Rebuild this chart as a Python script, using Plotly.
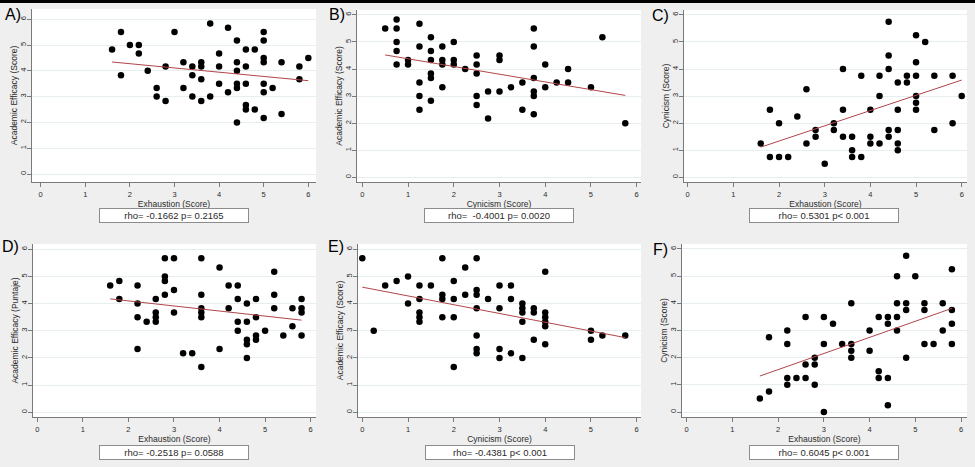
import numpy as np
import plotly.graph_objects as go

# ---------------- data ----------------
# Panel A: Exhaustion vs Academic Efficacy
a_x = [1.6, 1.8, 1.8, 2.0, 2.2, 2.2, 2.4, 2.6, 2.6, 2.8, 2.8, 3.0, 3.2, 3.2, 3.4, 3.4, 3.4,
       3.6, 3.6, 3.6, 3.6, 3.8, 3.8, 4.0, 4.0, 4.0, 4.2, 4.2, 4.4, 4.4, 4.4, 4.4, 4.4, 4.4,
       4.6, 4.6, 4.6, 4.6, 4.6, 4.8, 4.8, 5.0, 5.0, 5.0, 5.0, 5.0, 5.0, 5.0, 5.2, 5.4, 5.4,
       5.8, 5.8, 6.0]
a_y = [4.83, 5.5, 3.83, 5.0, 5.0, 4.67, 4.0, 3.33, 3.0, 4.17, 2.83, 5.5, 4.33, 3.33, 4.17, 3.83, 3.0,
       4.33, 4.17, 3.67, 2.83, 5.83, 3.0, 4.67, 4.17, 3.5, 5.67, 3.17, 5.17, 4.33, 4.0, 3.5, 3.33, 2.0,
       4.83, 4.17, 3.5, 2.67, 2.5, 4.83, 2.5, 5.5, 5.17, 4.5, 4.33, 3.5, 3.17, 2.17, 3.33, 4.33, 2.33,
       4.17, 3.67, 4.5]

# Panel B: Cynicism vs Academic Efficacy
b_x = [0.5, 0.75, 0.75, 0.75, 0.75, 0.75, 1.0, 1.0, 1.25, 1.25, 1.25, 1.25, 1.25,
       1.5, 1.5, 1.5, 1.5, 1.5, 1.5, 1.75, 1.75, 1.75, 1.75, 2.0, 2.0, 2.0, 2.25,
       2.5, 2.5, 2.5, 2.5, 2.5, 2.75, 2.75, 3.0, 3.0, 3.0, 3.25, 3.5, 3.5,
       3.75, 3.75, 3.75, 3.75, 3.75, 3.75, 4.0, 4.0, 4.25, 4.5, 4.5, 5.0, 5.25, 5.75]
b_y = [5.5, 5.83, 5.5, 5.0, 4.67, 4.17, 4.33, 4.17, 5.67, 4.83, 3.5, 3.0, 2.5,
       5.17, 4.67, 4.33, 3.83, 3.67, 2.83, 4.83, 4.33, 4.17, 3.33, 5.0, 4.33, 4.17, 4.0,
       4.5, 4.17, 3.83, 3.0, 2.67, 3.17, 2.17, 4.5, 4.33, 3.17, 3.33, 3.5, 2.5,
       5.5, 4.83, 3.67, 3.17, 3.0, 2.33, 4.17, 3.33, 3.5, 4.0, 3.5, 3.33, 5.17, 2.0]

# Panel C: Exhaustion vs Cynicism
c_x = [1.6, 1.8, 1.8, 2.0, 2.0, 2.2, 2.4, 2.6, 2.6, 2.8, 2.8, 3.0, 3.2, 3.2, 3.4, 3.4, 3.4,
       3.6, 3.6, 3.6, 3.8, 3.8, 4.0, 4.0, 4.0, 4.2, 4.2, 4.2, 4.4, 4.4, 4.4, 4.4, 4.4,
       4.6, 4.6, 4.6, 4.6, 4.6, 4.8, 4.8, 5.0, 5.0, 5.0, 5.0, 5.0, 5.0, 5.2, 5.4, 5.4,
       5.8, 5.8, 6.0]
c_y = [1.25, 2.5, 0.75, 2.0, 0.75, 0.75, 2.25, 3.25, 1.25, 1.75, 1.5, 0.5, 2.0, 1.75, 4.0, 2.5, 1.5,
       1.5, 1.0, 0.75, 3.75, 0.75, 2.5, 1.5, 1.25, 3.75, 3.0, 1.25, 5.75, 4.5, 4.0, 1.75, 1.5,
       3.5, 2.5, 1.75, 1.25, 1.0, 3.75, 3.5, 5.25, 4.25, 3.75, 3.0, 2.75, 2.5, 5.0, 3.75, 1.75,
       3.75, 2.0, 3.0]

# Panel D: Exhaustion vs Academic Efficacy
d_x = [1.6, 1.8, 1.8, 2.2, 2.2, 2.2, 2.2, 2.4, 2.6, 2.6, 2.6, 2.6, 2.8, 2.8, 2.8, 2.8,
       3.0, 3.0, 3.0, 3.2, 3.4, 3.6, 3.6, 3.6, 3.6, 3.6, 3.6, 4.0, 4.0, 4.2, 4.2,
       4.4, 4.4, 4.4, 4.4, 4.6, 4.6, 4.6, 4.6, 4.6, 4.8, 4.8, 4.8, 4.8, 5.0,
       5.2, 5.2, 5.2, 5.4, 5.6, 5.6, 5.8, 5.8, 5.8, 5.8]
d_y = [4.67, 4.83, 4.17, 4.67, 4.0, 3.5, 2.33, 3.33, 4.17, 3.67, 3.5, 3.33, 5.67, 5.0, 4.83, 4.33,
       5.67, 4.5, 3.67, 2.17, 2.17, 5.67, 4.33, 3.83, 3.67, 3.5, 1.67, 5.33, 2.33, 4.67, 3.83,
       4.67, 4.17, 3.33, 3.0, 4.0, 3.33, 2.67, 2.5, 2.0, 4.17, 3.5, 2.83, 2.67, 3.0,
       5.17, 4.33, 3.83, 2.83, 3.83, 3.17, 4.17, 3.83, 3.67, 2.83]

# Panel E: Cynicism vs Academic Efficacy
e_x = [0.0, 0.25, 0.5, 0.75, 1.0, 1.0, 1.25, 1.25, 1.25, 1.25, 1.25, 1.5, 1.75, 1.75, 1.75, 1.75,
       2.0, 2.0, 2.0, 2.0, 2.25, 2.25, 2.5, 2.5, 2.5, 2.5, 2.5, 2.5, 2.5, 2.75,
       3.0, 3.0, 3.0, 3.0, 3.25, 3.25, 3.25, 3.5, 3.5, 3.5, 3.5, 3.5, 3.75, 3.75, 3.75,
       4.0, 4.0, 4.0, 4.0, 4.0, 4.0, 5.0, 5.0, 5.25, 5.75]
e_y = [5.67, 3.0, 4.67, 4.83, 5.0, 4.0, 4.67, 4.17, 3.67, 3.5, 3.33, 4.67, 5.67, 4.33, 4.17, 3.5,
       4.83, 4.17, 3.5, 1.67, 5.33, 4.33, 5.67, 4.5, 4.33, 3.83, 2.83, 2.33, 2.17, 4.17,
       4.67, 3.83, 2.33, 2.0, 4.67, 4.17, 2.17, 4.0, 3.83, 3.67, 3.33, 2.0, 3.83, 3.67, 2.67,
       5.17, 3.67, 3.5, 3.33, 3.17, 2.5, 3.0, 2.67, 2.83, 2.83]

# Panel F: Exhaustion vs Cynicism
f_x = [1.6, 1.8, 1.8, 2.2, 2.2, 2.2, 2.2, 2.4, 2.6, 2.6, 2.6, 2.8, 2.8, 2.8, 3.0, 3.0, 3.0,
       3.2, 3.4, 3.6, 3.6, 3.6, 3.6, 4.0, 4.0, 4.2, 4.2, 4.2, 4.4, 4.4, 4.4, 4.4,
       4.6, 4.6, 4.6, 4.6, 4.8, 4.8, 4.8, 4.8, 5.0, 5.2, 5.2, 5.2, 5.4, 5.6, 5.6,
       5.8, 5.8, 5.8, 5.8]
f_y = [0.5, 0.75, 2.75, 3.0, 2.5, 1.25, 1.0, 1.25, 3.5, 1.75, 1.25, 2.0, 1.75, 1.0, 3.5, 2.5, 0.0,
       3.25, 2.5, 4.0, 2.5, 2.25, 2.0, 3.0, 2.25, 3.5, 1.5, 1.25, 3.5, 3.25, 1.25, 0.25,
       5.0, 4.0, 3.5, 3.0, 5.75, 4.0, 3.75, 2.0, 5.0, 4.0, 3.75, 2.5, 2.5, 4.0, 3.0,
       5.25, 3.75, 3.25, 2.5]

letters = ["A)", "B)", "C)", "D)", "E)", "F)"]
x_titles = ["Exhaustion (Score)", "Cynicism (Score)", "Exhaustion (Score)",
            "Exhaustion (Score)", "Cynicism (Score)", "Exhaustion (Score)"]
y_titles = ["Academic Efficacy (Score)", "Academic Efficacy (Score)", "Cynicism (Score)",
            "Academic Efficacy (Puntaje)", "Academic Efficacy (Score)", "Cynicism (Score)"]
stats = ["rho= -0.1662 p= 0.2165", "rho=&nbsp; -0.4001 p= 0.0020", "rho= 0.5301 p< 0.001",
         "rho= -0.2518 p= 0.0588", "rho= -0.4381 p< 0.001", "rho= 0.6045 p< 0.001"]
tick_vals = [0, 1, 2, 3, 4, 5, 6]

xs = [a_x, b_x, c_x, d_x, e_x, f_x]
ys = [a_y, b_y, c_y, d_y, e_y, f_y]

# ---------------- layout geometry (pixels) ----------------
W, H = 975, 467
geom = [
    dict(l=32, r=316, t=9, b=182, x0=40.7, xu=44.6, y0=174.0, yu=25.8, let=(13, 14), box=(174, 216)),
    dict(l=357, r=641, t=10, b=182, x0=362.3, xu=45.73, y0=177.3, yu=27.07, let=(337, 14), box=(499, 216)),
    dict(l=684, r=967, t=10, b=182, x0=687.7, xu=45.67, y0=177.3, yu=27.07, let=(660, 15), box=(824, 216)),
    dict(l=33, r=316, t=244, b=417, x0=37.3, xu=45.56, y0=412.3, yu=27.17, let=(10, 246), box=(174, 452)),
    dict(l=358, r=641, t=244, b=417, x0=362.3, xu=45.73, y0=412.3, yu=27.17, let=(336, 246), box=(499.5, 452)),
    dict(l=682, r=967, t=244, b=417, x0=686.7, xu=45.72, y0=412.0, yu=27.17, let=(660, 249), box=(824, 452)),
]

BG = "#efefef"
AXC = "#7a7a7a"
TXT = "#2b2b2b"
FONT = "Liberation Sans, Arial, sans-serif"

fig = go.Figure()
layout = {}
annotations = []

for i in range(6):
    g = geom[i]
    n = "" if i == 0 else str(i + 1)
    xa, ya = "x" + n, "y" + n
    x = np.array(xs[i], dtype=float)
    y = np.array(ys[i], dtype=float)

    fig.add_trace(go.Scatter(x=x, y=y, mode="markers", xaxis=xa, yaxis=ya,
                             marker=dict(color="black", size=6.5), showlegend=False,
                             hoverinfo="x+y"))
    slope, icpt = np.polyfit(x, y, 1)
    fx = np.array([x.min(), x.max()])
    fig.add_trace(go.Scatter(x=fx, y=icpt + slope * fx, mode="lines", xaxis=xa, yaxis=ya,
                             line=dict(color="#b0464a", width=1), showlegend=False,
                             hoverinfo="skip"))

    xr = [(g["l"] - g["x0"]) / g["xu"], (g["r"] - g["x0"]) / g["xu"]]
    yr = [(g["y0"] - g["b"]) / g["yu"], (g["y0"] - g["t"]) / g["yu"]]

    layout["xaxis" + n] = dict(
        domain=[g["l"] / W, g["r"] / W], anchor=ya, range=xr,
        tickvals=tick_vals, ticks="outside", ticklen=4, tickcolor=AXC,
        ticklabelstandoff=1,
        showline=True, linecolor=AXC, linewidth=1, showgrid=False, zeroline=False,
        tickfont=dict(size=7.5, color=TXT, family=FONT),
        title=dict(text=x_titles[i], font=dict(size=8.5, color=TXT, family=FONT), standoff=0),
    )
    layout["yaxis" + n] = dict(
        domain=[1 - g["b"] / H, 1 - g["t"] / H], anchor=xa, range=yr,
        tickvals=tick_vals, ticks="outside", ticklen=4, tickcolor=AXC, tickangle=-90,
        ticklabelstandoff=-2,
        showline=True, linecolor=AXC, linewidth=1, showgrid=True, gridcolor="#e6eeef",
        gridwidth=1, zeroline=False,
        tickfont=dict(size=7.5, color=TXT, family=FONT),
        title=dict(text=y_titles[i], font=dict(size=8.5, color=TXT, family=FONT), standoff=0),
    )
    annotations.append(dict(
        x=g["let"][0] / W, y=1 - g["let"][1] / H, xref="paper", yref="paper",
        text=letters[i], showarrow=False, xanchor="center", yanchor="middle",
        font=dict(size=16, color="black", family=FONT)))
    annotations.append(dict(
        x=g["box"][0] / W, y=1 - g["box"][1] / H, xref="paper", yref="paper",
        text=stats[i], showarrow=False, xanchor="center", yanchor="middle",
        width=146, height=11, bgcolor="white", bordercolor="#8c8c8c", borderwidth=1,
        borderpad=1, font=dict(size=9.5, color=TXT, family=FONT)))

fig.update_layout(
    width=W, height=H, margin=dict(l=0, r=0, t=0, b=0),
    paper_bgcolor=BG, plot_bgcolor="white",
    annotations=annotations,
    shapes=[dict(type="rect", xref="paper", yref="paper", x0=0, x1=1, y0=1 - 3 / H, y1=1,
                 fillcolor="black", line=dict(width=0), layer="above")],
    **layout,
)

fig.write_html("out.html")
